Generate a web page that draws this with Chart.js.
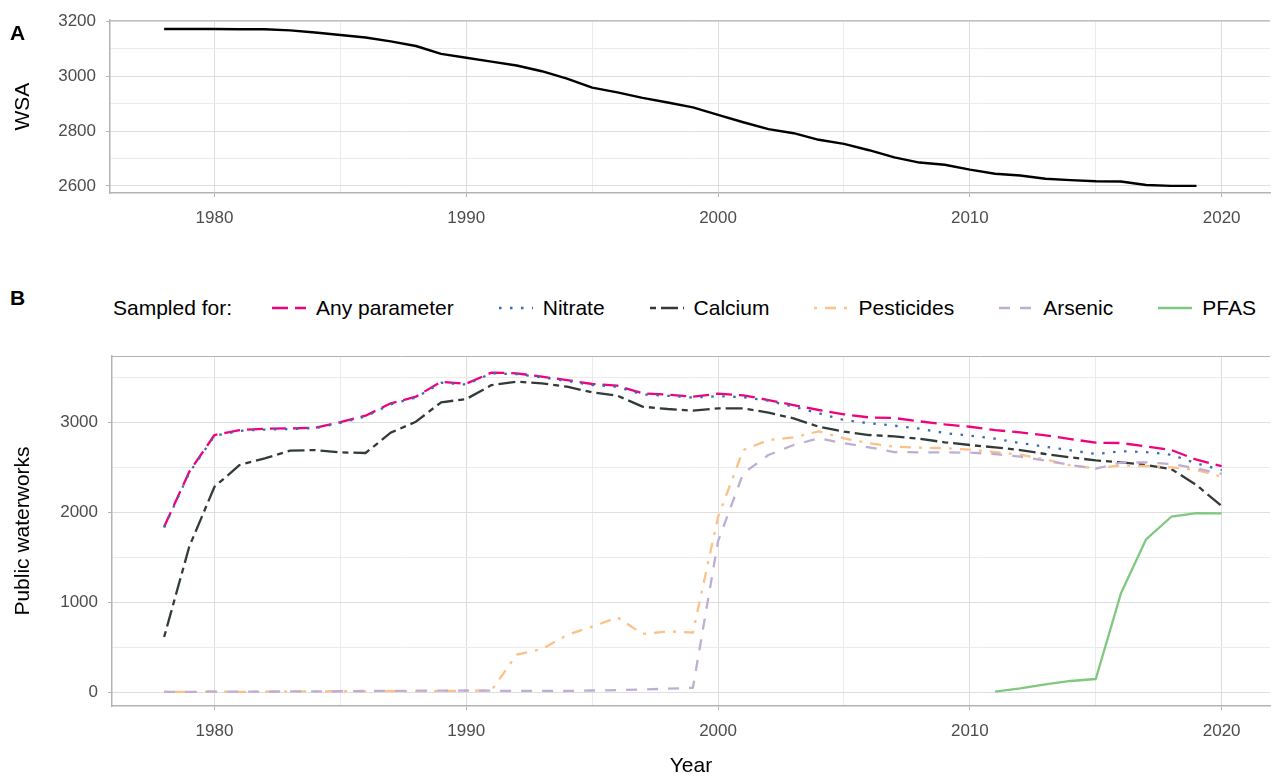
<!DOCTYPE html>
<html>
<head>
<meta charset="utf-8">
<script src="https://cdn.jsdelivr.net/npm/chart.js@4.4.1/dist/chart.umd.min.js"></script>
<style>
  body { margin: 0; background: #fff; font-family: "Liberation Sans", Arial, sans-serif; }
  #wrap { position: relative; width: 1272px; height: 776px; overflow: hidden; }
  #cTop { position: absolute; left: 0; top: 0; }
  #cBottom { position: absolute; left: 0; top: 330px; }
  .tag { position: absolute; left: 10px; font-weight: bold; font-size: 21px; color: #000; }
  .leg { position: absolute; top: 295px; height: 26px; font-size: 21px; line-height: 26px; color: #000; white-space: nowrap; }
  #legend { position: absolute; left: 272px; top: 295px; display: flex; gap: 45px; font-size: 21px; line-height: 26px; white-space: nowrap; }
  #legend .item { display: flex; align-items: center; gap: 10px; }
  #legend svg { display: block; }
</style>
</head>
<body>
<div id="wrap">
  <canvas id="cTop" width="1272" height="240"></canvas>
  <canvas id="cBottom" width="1272" height="449"></canvas>
  <div class="tag" style="top:21px">A</div>
  <div class="tag" style="top:286px">B</div>
  <div class="leg" style="left:113px">Sampled for:</div>
  <div id="legend"></div>
</div>
<script>
// panel A: water supply areas
const wsaYears = [1978, 1979, 1980, 1981, 1982, 1983, 1984, 1985, 1986, 1987, 1988, 1989, 1990, 1991,
  1992, 1993, 1994, 1995, 1996, 1997, 1998, 1999, 2000, 2001, 2002, 2003, 2004, 2005, 2006, 2007,
  2008, 2009, 2010, 2011, 2012, 2013, 2014, 2015, 2016, 2017, 2018, 2019];
const wsa = [3172, 3172, 3172, 3171, 3171, 3167, 3159, 3150, 3141, 3127, 3110, 3081, 3067, 3053,
  3039, 3018, 2991, 2958, 2941, 2921, 2904, 2886, 2859, 2832, 2807, 2792, 2768, 2753, 2730, 2704,
  2685, 2677, 2659, 2644, 2638, 2626, 2621, 2617, 2616, 2603, 2600, 2600];

// panel B: public waterworks sampled
const years = [1978, 1979, 1980, 1981, 1982, 1983, 1984, 1985, 1986, 1987, 1988, 1989, 1990, 1991,
  1992, 1993, 1994, 1995, 1996, 1997, 1998, 1999, 2000, 2001, 2002, 2003, 2004, 2005, 2006, 2007,
  2008, 2009, 2010, 2011, 2012, 2013, 2014, 2015, 2016, 2017, 2018, 2019, 2020];
const anyParam = [1840, 2451, 2859, 2914, 2929, 2933, 2940, 3003, 3074, 3211, 3285, 3451, 3429, 3553,
  3544, 3507, 3470, 3426, 3407, 3322, 3307, 3285, 3318, 3300, 3248, 3192, 3137, 3089, 3055, 3048,
  3011, 2977, 2951, 2914, 2888, 2855, 2814, 2774, 2770, 2733, 2692, 2585, 2514];
const nitrate = [1830, 2440, 2850, 2905, 2920, 2925, 2935, 2995, 3065, 3200, 3275, 3440, 3420, 3545,
  3535, 3500, 3460, 3415, 3395, 3310, 3295, 3275, 3290, 3280, 3240, 3174, 3100, 3026, 2989, 2963,
  2930, 2881, 2852, 2818, 2770, 2729, 2689, 2648, 2678, 2670, 2640, 2544, 2470];
const calcium = [614, 1620, 2284, 2526, 2600, 2685, 2692, 2666, 2659, 2885, 3007, 3222, 3259, 3414,
  3451, 3433, 3396, 3333, 3296, 3174, 3148, 3129, 3155, 3155, 3107, 3044, 2951, 2896, 2859, 2844,
  2818, 2778, 2748, 2722, 2692, 2648, 2611, 2577, 2555, 2526, 2481, 2303, 2070];
const pesticides = [5, 5, 8, 5, 8, 10, 10, 12, 12, 15, 12, 15, 18, 20,
  420, 480, 637, 729, 833, 648, 678, 663, 1950, 2692, 2803, 2833, 2900, 2822, 2767, 2729,
  2718, 2714, 2696, 2670, 2640, 2589, 2522, 2489, 2522, 2514, 2500, 2470, 2396];
const arsenic = [5, 5, 8, 8, 8, 10, 10, 12, 15, 15, 18, 18, 20, 18,
  15, 15, 15, 20, 25, 32, 40, 50, 1680, 2433, 2637, 2748, 2822, 2767, 2722, 2670,
  2666, 2666, 2663, 2648, 2618, 2574, 2526, 2485, 2552, 2555, 2537, 2489, 2426];
const pfas = [null, null, null, null, null, null, null, null, null, null, null, null, null, null,
  null, null, null, null, null, null, null, null, null, null, null, null, null, null, null, null,
  null, null, null, 7, 44, 89, 126, 148, 1100, 1700, 1951, 1992, 1989];

const seriesNames = ['Any parameter', 'Nitrate', 'Calcium', 'Pesticides', 'Arsenic', 'PFAS'];
const seriesValues = [anyParam, nitrate, calcium, pesticides, arsenic, pfas];
const seriesColors = ['#F0027F', '#386CB0', '#323b38', '#FDC086', '#BEAED4', '#7FC97F'];
const seriesDash = [[16, 7], [2.5, 8.5], [6, 5, 17, 5], [3, 8, 11, 8], [11, 10], []];

// tick positions (labels only on the major ones)
const yearTicks = [1980, 1985, 1990, 1995, 2000, 2005, 2010, 2015, 2020];
const wsaTicks = [2600, 2700, 2800, 2900, 3000, 3100, 3200];
const countTicks = [0, 500, 1000, 1500, 2000, 2500, 3000, 3500];

const tickFont = { family: '"Liberation Sans", Arial, sans-serif', size: 17 };
const titleFont = { family: '"Liberation Sans", Arial, sans-serif', size: 21 };
const axisGray = '#b3b3b3';

function toPoints(xs, ys) {
    return xs.map((x, i) => ({ x: x, y: ys[i] }));
}

// top edge of the panel box
const framePlugin = {
    id: 'frame',
    afterDatasetsDraw(chart) {
        const a = chart.chartArea;
        const c = chart.ctx;
        c.save();
        c.strokeStyle = axisGray;
        c.lineWidth = 1;
        c.beginPath();
        c.moveTo(a.left, a.top + 0.5);
        c.lineTo(a.right, a.top + 0.5);
        c.stroke();
        c.restore();
    }
};

function xScale(min, max, withTitle) {
    return {
        type: 'linear',
        min: min,
        max: max,
        afterFit: s => { s.height = withTitle ? 73 : 47; },
        afterBuildTicks: s => { s.ticks = yearTicks.map(v => ({ value: v })); },
        ticks: {
            color: '#4d4d4d',
            font: tickFont,
            padding: 11,
            maxRotation: 0,
            autoSkip: false,
            callback: v => (v % 10 === 0 ? String(v) : '')
        },
        grid: {
            color: c => (c.tick && c.tick.value % 10 === 0 ? '#dedede' : '#ebebeb'),
            tickColor: c => (c.tick && c.tick.value % 10 === 0 ? axisGray : 'rgba(0,0,0,0)'),
            tickLength: 4
        },
        border: { display: true, color: axisGray, width: 1.5 },
        title: withTitle ? { display: true, text: 'Year', color: '#000', font: titleFont, padding: { top: 0, bottom: 0 } } : { display: false }
    };
}

function yScale(min, max, tickVals, major, width, title) {
    return {
        min: min,
        max: max,
        afterFit: s => { s.width = width; },
        afterBuildTicks: s => { s.ticks = tickVals.map(v => ({ value: v })); },
        ticks: {
            color: '#4d4d4d',
            font: tickFont,
            padding: 10,
            autoSkip: false,
            callback: v => (v % major === 0 ? String(v) : '')
        },
        grid: {
            color: c => (c.tick && c.tick.value % major === 0 ? '#dedede' : '#ebebeb'),
            tickColor: c => (c.tick && c.tick.value % major === 0 ? axisGray : 'rgba(0,0,0,0)'),
            tickLength: 4
        },
        border: { display: true, color: axisGray, width: 1.5 },
        title: { display: true, text: title, color: '#000', font: titleFont, padding: { top: 11, bottom: 0 } }
    };
}

new Chart(document.getElementById('cTop'), {
    type: 'line',
    data: {
        datasets: [{
            label: 'WSA',
            data: toPoints(wsaYears, wsa),
            borderColor: '#000',
            borderWidth: 2.4,
            borderJoinStyle: 'round',
            pointRadius: 0,
            tension: 0,
            fill: false
        }]
    },
    options: {
        responsive: false,
        animation: false,
        layout: { padding: { top: 15, right: 2, left: 0, bottom: 0 } },
        plugins: { legend: { display: false }, tooltip: { enabled: false } },
        scales: {
            x: xScale(1975.85, 2021.92, false),
            y: yScale(2574, 3204, wsaTicks, 200, 110, 'WSA')
        }
    },
    plugins: [framePlugin]
});

new Chart(document.getElementById('cBottom'), {
    type: 'line',
    data: {
        datasets: seriesNames.map((name, i) => ({
            label: name,
            data: toPoints(years, seriesValues[i]),
            borderColor: seriesColors[i],
            borderDash: seriesDash[i],
            borderWidth: 2.3,
            borderJoinStyle: 'round',
            pointRadius: 0,
            tension: 0,
            fill: false,
            spanGaps: false,
            order: seriesNames.length - i
        }))
    },
    options: {
        responsive: false,
        animation: false,
        layout: { padding: { top: 26, right: 2, left: 0, bottom: 0 } },
        plugins: { legend: { display: false }, tooltip: { enabled: false } },
        scales: {
            x: xScale(1975.93, 2021.92, true),
            y: yScale(-152, 3737, countTicks, 1000, 112, 'Public waterworks')
        }
    },
    plugins: [framePlugin]
});

// legend row, built from the series arrays
const legendBox = document.getElementById('legend');
seriesNames.forEach((name, i) => {
    const item = document.createElement('div');
    item.className = 'item';
    const dash = seriesDash[i].length ? seriesDash[i].join(' ') : 'none';
    item.innerHTML = '<svg width="34" height="26"><line x1="0" y1="13" x2="34" y2="13" stroke="' +
        seriesColors[i] + '" stroke-width="2.3" stroke-dasharray="' + dash + '"/></svg><span>' + name + '</span>';
    legendBox.appendChild(item);
});
</script>
</body>
</html>
